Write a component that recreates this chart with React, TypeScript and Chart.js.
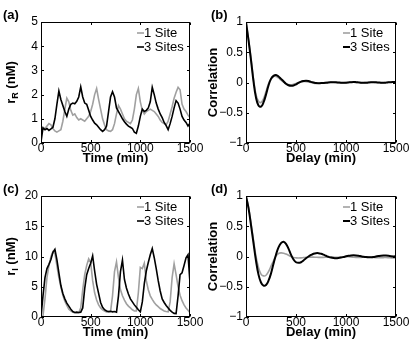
import React, { useEffect, useRef } from "react";
import { Chart, registerables } from "chart.js";

Chart.register(...registerables);

const FONT = "'Liberation Sans', Arial, Helvetica, sans-serif";
const GRAY = "#a0a0a0";
const BLACK = "#000000";

const SERIES_LABELS = ["1 Site", "3 Sites"];
const PANEL_LABELS = ["(a)", "(b)", "(c)", "(d)"];
const X_TICKS = [0, 500, 1000, 1500];
const RR_TICKS = [0, 1, 2, 3, 4, 5];
const RI_TICKS = [0, 5, 10, 15, 20];
const CORR_TICKS = [-1, -0.5, 0, 0.5, 1];

// sampling interval (min) of the time traces and of the correlation lags
const TIME_STEP = 20;
const LAG_STEP = 25;

// (a) r_R (nM), t = 0..1500 every 20 min
const rR1Site = [
  0.3, 0.65, 0.6, 0.7, 0.8, 0.75, 0.6, 0.5, 0.45, 0.5,
  0.55, 0.9, 1.4, 1.85, 1.7, 1.35, 1.15, 1.2, 1.05, 0.95,
  1.0, 0.95, 0.9, 1.0, 1.1, 1.3, 1.6, 2.0, 2.25, 1.8,
  1.4, 1.0, 0.75, 0.55, 0.5, 0.48, 0.55, 0.8, 1.2, 1.55,
  1.4, 1.2, 1.0, 0.9, 0.85, 0.8, 0.95, 1.4, 2.0, 2.25,
  1.7, 1.35, 1.2, 1.3, 1.35, 1.4, 1.35, 1.3, 1.2, 1.1,
  0.95, 0.85, 0.8, 0.75, 0.9, 1.2, 1.5, 1.85, 2.1, 2.3,
  2.2, 1.6, 1.4, 1.3, 1.15, 1.05,
];
const rR3Sites = [
  0.05, 0.62, 0.55, 0.6, 0.52, 0.58, 0.65, 1.0, 1.6, 2.15,
  1.8, 1.55, 1.3, 1.1, 1.4, 1.6, 1.65, 1.62, 1.72, 1.9,
  2.32, 1.9, 1.65, 1.6, 1.35, 1.1, 0.95, 0.82, 0.75, 0.65,
  0.55, 0.48, 0.55, 0.7, 1.3, 1.9, 2.12, 1.9, 1.45, 1.3,
  1.15, 1.0, 0.88, 0.78, 0.7, 0.65, 0.6, 0.45, 0.4, 0.7,
  1.1, 1.4, 1.3, 1.35, 1.45, 1.7, 2.3, 2.0, 1.65, 1.4,
  1.2, 1.05, 0.85, 0.72, 0.55, 0.8, 1.1, 1.45, 1.75, 1.65,
  1.4, 1.1, 0.95, 0.85, 0.7, 0.82,
];

// (c) r_I (nM), t = 0..1500 every 20 min
const rI1Site = [
  0, 0.2, 3.0, 6.5, 8.5, 10.0, 10.8, 10.5, 8.5, 6.5,
  5.0, 3.6, 2.6, 1.9, 1.3, 1.0, 0.8, 0.7, 0.7, 0.7,
  1.5, 4.5, 7.0, 8.5, 9.6, 9.0, 6.0, 4.0, 2.8, 2.0,
  1.5, 1.2, 1.0, 0.85, 0.8, 0.9, 3.5, 7.5, 9.1, 6.5,
  4.5, 3.5, 2.8, 2.2, 1.8, 1.5, 1.2, 1.0, 1.0, 4.0,
  8.2, 8.0, 8.9, 6.0, 4.5, 3.5, 2.9, 2.4, 2.0, 1.7,
  1.4, 1.2, 1.0, 0.9, 0.85, 2.5, 6.5, 8.8, 7.0, 5.0,
  3.6, 2.7, 2.0, 1.5, 1.1, 0.7,
];
const rI3Sites = [
  0, 3.5, 6.5, 8.0, 8.7, 9.5, 10.7, 11.2, 9.5, 7.3,
  5.2, 3.9, 3.0, 2.3, 1.8, 1.3, 0.9, 0.75, 0.8, 0.75,
  0.8, 1.5, 4.7, 7.0, 8.0, 8.9, 10.1, 7.6, 5.4, 3.9,
  2.4, 1.6, 1.2, 1.0, 0.9, 0.95, 0.85, 0.9, 0.8, 3.5,
  7.5, 9.4, 6.2, 4.8, 3.8, 3.0, 2.5, 2.0, 1.6, 1.2,
  0.85, 2.5, 5.5, 7.6, 9.0, 10.3, 11.3, 9.8, 8.0, 6.0,
  4.3, 3.0, 2.4, 1.9, 1.5, 1.1, 0.8, 0.6, 0.55, 3.5,
  7.0, 7.3, 8.5, 9.8, 10.3, 5.6,
];

// (b) autocorrelation of r_R, lag = 0..1500 every 25 min
const corrR1Site = [
  1.0, 0.72, 0.4, 0.06, -0.2, -0.31, -0.33, -0.27, -0.15, -0.02,
  0.06, 0.1, 0.1, 0.075, 0.04, 0.005, -0.02, -0.035, -0.04, -0.03,
  -0.015, 0.0, 0.01, 0.015, 0.015, 0.01, 0.0, -0.01, -0.015, -0.012,
  -0.008, -0.004, 0.0, 0.004, 0.006, 0.004, 0.0, -0.005, -0.008, -0.006,
  -0.002, 0.003, 0.006, 0.005, 0.001, -0.003, -0.006, -0.004, 0.0, 0.003,
  0.005, 0.003, -0.001, -0.004, -0.006, -0.003, 0.001, 0.004, 0.005, 0.003,
  0.0,
];
const corrR3Sites = [
  1.0, 0.7, 0.37, 0.02, -0.25, -0.38, -0.4, -0.33, -0.2, -0.05,
  0.06, 0.11, 0.125, 0.1, 0.06, 0.02, -0.02, -0.045, -0.055, -0.05,
  -0.03, -0.005, 0.015, 0.025, 0.03, 0.025, 0.01, 0.0, -0.01, -0.012,
  -0.01, -0.008, -0.005, 0.0, 0.003, 0.005, 0.004, 0.0, -0.004, -0.006,
  -0.004, 0.0, 0.005, 0.008, 0.006, 0.002, -0.003, -0.006, -0.005, 0.0,
  0.004, 0.006, 0.004, 0.0, -0.004, -0.005, -0.002, 0.003, 0.006, 0.008,
  0.01,
];

// (d) autocorrelation of r_I, lag = 0..1500 every 25 min
const corrI1Site = [
  1.0, 0.82, 0.55, 0.27, 0.0, -0.18, -0.29, -0.32, -0.31, -0.25,
  -0.16, -0.07, 0.01, 0.05, 0.06, 0.055, 0.04, 0.02, 0.0, -0.015,
  -0.022, -0.024, -0.022, -0.018, -0.015, -0.012, -0.01, -0.01, -0.012, -0.014,
  -0.015, -0.014, -0.012, -0.01, -0.01, -0.011, -0.013, -0.012, -0.01, -0.006,
  -0.004, -0.005, -0.008, -0.012, -0.015, -0.016, -0.015, -0.012, -0.01, -0.01,
  -0.013, -0.017, -0.02, -0.021, -0.02, -0.018, -0.017, -0.019, -0.022, -0.025,
  -0.026,
];
const corrI3Sites = [
  1.0, 0.8, 0.52, 0.22, -0.07, -0.3, -0.43, -0.48, -0.47, -0.4,
  -0.28, -0.12, 0.03, 0.15, 0.22, 0.245, 0.21, 0.13, 0.03, -0.05,
  -0.095, -0.105, -0.095, -0.065, -0.03, 0.0, 0.025, 0.045, 0.055, 0.055,
  0.045, 0.03, 0.012, -0.005, -0.018, -0.025, -0.028, -0.025, -0.018, -0.008,
  0.003, 0.012, 0.018, 0.02, 0.018, 0.012, 0.004, -0.004, -0.01, -0.013,
  -0.012, -0.007, 0.0, 0.007, 0.013, 0.016, 0.015, 0.011, 0.005, 0.002,
  0.003,
];

type SubLabel = { main: string; sub: string; rest: string };

type PanelSpec = {
  key: string;
  label: string;
  left: number;
  top: number;
  w: number;
  h: number;
  yAxisWidth: number;
  padRight: number;
  yMin: number;
  yMax: number;
  yTicks: number[];
  xTitle: string;
  yTitleText?: string;
  yLabel?: SubLabel;
  gray: number[];
  black: number[];
  step: number;
  tension: number;
  grayWidth: number;
  blackWidth: number;
};

const PANELS: PanelSpec[] = [
  {
    key: "a", label: PANEL_LABELS[0], left: 0, top: 0, w: 208, h: 175,
    yAxisWidth: 41, padRight: 18, yMin: 0, yMax: 5, yTicks: RR_TICKS,
    xTitle: "Time (min)", yLabel: { main: "r", sub: "R", rest: " (nM)" },
    gray: rR1Site, black: rR3Sites, step: TIME_STEP, tension: 0,
    grayWidth: 1.6, blackWidth: 1.6,
  },
  {
    key: "b", label: PANEL_LABELS[1], left: 208, top: 0, w: 208, h: 175,
    yAxisWidth: 38, padRight: 20, yMin: -1, yMax: 1, yTicks: CORR_TICKS,
    xTitle: "Delay (min)", yTitleText: "Correlation",
    gray: corrR1Site, black: corrR3Sites, step: LAG_STEP, tension: 0.4,
    grayWidth: 1.6, blackWidth: 2,
  },
  {
    key: "c", label: PANEL_LABELS[2], left: 0, top: 174, w: 208, h: 175,
    yAxisWidth: 41, padRight: 18, yMin: 0, yMax: 20, yTicks: RI_TICKS,
    xTitle: "Time (min)", yLabel: { main: "r", sub: "I", rest: " (nM)" },
    gray: rI1Site, black: rI3Sites, step: TIME_STEP, tension: 0,
    grayWidth: 1.6, blackWidth: 1.6,
  },
  {
    key: "d", label: PANEL_LABELS[3], left: 208, top: 174, w: 208, h: 175,
    yAxisWidth: 38, padRight: 20, yMin: -1, yMax: 1, yTicks: CORR_TICKS,
    xTitle: "Delay (min)", yTitleText: "Correlation",
    gray: corrI1Site, black: corrI3Sites, step: LAG_STEP, tension: 0.4,
    grayWidth: 1.6, blackWidth: 2,
  },
];

function toPoints(values: number[], step: number) {
  return values.map((y, i) => ({ x: i * step, y }));
}

function formatTick(v: any) {
  return String(v).replace("-", "\u2212");
}

function makeConfig(p: PanelSpec): any {
  const tickFont = { family: FONT, size: 12, lineHeight: 1 };
  const titleFont = { family: FONT, size: 13, weight: "bold", lineHeight: 1 };

  const framePlugin = {
    id: "frame_" + p.key,
    afterDraw(chart: any) {
      const { ctx, chartArea: a, scales } = chart;
      ctx.save();
      // axes box
      ctx.strokeStyle = "#000";
      ctx.lineWidth = 1;
      const L = Math.round(a.left) + 0.5;
      const R = Math.round(a.right) - 0.5;
      const T = Math.round(a.top) + 0.5;
      const B = Math.round(a.bottom) - 0.5;
      ctx.strokeRect(L, T, R - L, B - T);
      // inward ticks on all four sides
      ctx.beginPath();
      for (const v of X_TICKS) {
        const x = Math.round(scales.x.getPixelForValue(v)) + 0.5;
        ctx.moveTo(x, B);
        ctx.lineTo(x, B - 2.5);
        ctx.moveTo(x, T);
        ctx.lineTo(x, T + 2.5);
      }
      for (const v of p.yTicks) {
        const y = Math.round(scales.y.getPixelForValue(v)) + 0.5;
        ctx.moveTo(L, y);
        ctx.lineTo(L + 2.5, y);
        ctx.moveTo(R, y);
        ctx.lineTo(R - 2.5, y);
      }
      ctx.stroke();

      // legend (no box), top right inside the axes
      const rows = [
        { label: SERIES_LABELS[0], color: GRAY, width: p.grayWidth },
        { label: SERIES_LABELS[1], color: BLACK, width: p.blackWidth },
      ];
      ctx.font = `13px ${FONT}`;
      ctx.textAlign = "left";
      ctx.textBaseline = "middle";
      rows.forEach((r, i) => {
        const y = a.top + 11 + i * 14;
        ctx.strokeStyle = r.color;
        ctx.lineWidth = r.width;
        ctx.beginPath();
        ctx.moveTo(a.right - 53, y);
        ctx.lineTo(a.right - 46, y);
        ctx.stroke();
        ctx.fillStyle = "#000";
        ctx.fillText(r.label, a.right - 46, y);
      });

      // panel letter
      ctx.font = `bold 13px ${FONT}`;
      ctx.fillStyle = "#000";
      ctx.textAlign = "left";
      ctx.textBaseline = "middle";
      ctx.fillText(p.label, 3, a.top - 7);

      // y label with subscript
      if (p.yLabel) {
        const { main, sub, rest } = p.yLabel;
        const mainFont = `bold 13px ${FONT}`;
        const subFont = `bold 9px ${FONT}`;
        ctx.font = mainFont;
        const w1 = ctx.measureText(main).width;
        const w3 = ctx.measureText(rest).width;
        ctx.font = subFont;
        const w2 = ctx.measureText(sub).width;
        const total = w1 + w2 + w3;
        ctx.translate(10, (a.top + a.bottom) / 2);
        ctx.rotate(-Math.PI / 2);
        const x0 = -total / 2;
        ctx.textBaseline = "alphabetic";
        ctx.font = mainFont;
        ctx.fillText(main, x0, 4.5);
        ctx.font = subFont;
        ctx.fillText(sub, x0 + w1, 8);
        ctx.font = mainFont;
        ctx.fillText(rest, x0 + w1 + w2, 4.5);
      }
      ctx.restore();
    },
  };

  return {
    type: "line",
    data: {
      datasets: [
        {
          label: SERIES_LABELS[1],
          data: toPoints(p.black, p.step),
          borderColor: BLACK,
          borderWidth: p.blackWidth,
          pointRadius: 0,
          tension: p.tension,
          fill: false,
          order: 0,
        },
        {
          label: SERIES_LABELS[0],
          data: toPoints(p.gray, p.step),
          borderColor: GRAY,
          borderWidth: p.grayWidth,
          pointRadius: 0,
          tension: p.tension,
          fill: false,
          order: 1,
        },
      ],
    },
    options: {
      animation: false,
      responsive: false,
      maintainAspectRatio: false,
      events: [],
      layout: { padding: { top: 22, right: p.padRight, bottom: 0, left: 0 } },
      plugins: {
        legend: { display: false },
        tooltip: { enabled: false },
        title: { display: false },
      },
      scales: {
        x: {
          type: "linear",
          min: 0,
          max: 1500,
          afterBuildTicks: (s: any) => {
            s.ticks = X_TICKS.map((v) => ({ value: v }));
          },
          afterFit: (s: any) => {
            s.height = 32;
          },
          grid: { display: false, drawTicks: false },
          border: { display: false },
          ticks: {
            font: tickFont,
            color: "#000",
            padding: 0,
            maxRotation: 0,
            autoSkip: false,
            callback: formatTick,
          },
          title: {
            display: true,
            text: p.xTitle,
            font: titleFont,
            color: "#000",
            padding: { top: 0, bottom: 10.5 },
          },
        },
        y: {
          type: "linear",
          min: p.yMin,
          max: p.yMax,
          afterBuildTicks: (s: any) => {
            s.ticks = p.yTicks.map((v) => ({ value: v }));
          },
          afterFit: (s: any) => {
            s.width = p.yAxisWidth;
          },
          grid: { display: false, drawTicks: false },
          border: { display: false },
          ticks: {
            font: tickFont,
            color: "#000",
            padding: 3,
            autoSkip: false,
            callback: formatTick,
          },
          title: p.yTitleText
            ? {
                display: true,
                text: p.yTitleText,
                font: titleFont,
                color: "#000",
                padding: { top: -1, bottom: 0 },
              }
            : { display: false },
        },
      },
    },
    plugins: [framePlugin],
  };
}

function Panel({ spec }: { spec: PanelSpec }) {
  const ref = useRef<HTMLCanvasElement>(null);
  useEffect(() => {
    if (!ref.current) return;
    const chart = new Chart(ref.current, makeConfig(spec));
    return () => chart.destroy();
  }, [spec]);
  return (
    <canvas
      ref={ref}
      width={spec.w}
      height={spec.h}
      style={{
        position: "absolute",
        left: spec.left,
        top: spec.top,
        width: spec.w,
        height: spec.h,
      }}
    />
  );
}

export default function App() {
  return (
    <div
      style={{
        position: "absolute",
        left: 0,
        top: 0,
        width: 416,
        height: 349,
        background: "#fff",
        overflow: "hidden",
      }}
    >
      {PANELS.map((p) => (
        <Panel key={p.key} spec={p} />
      ))}
    </div>
  );
}
